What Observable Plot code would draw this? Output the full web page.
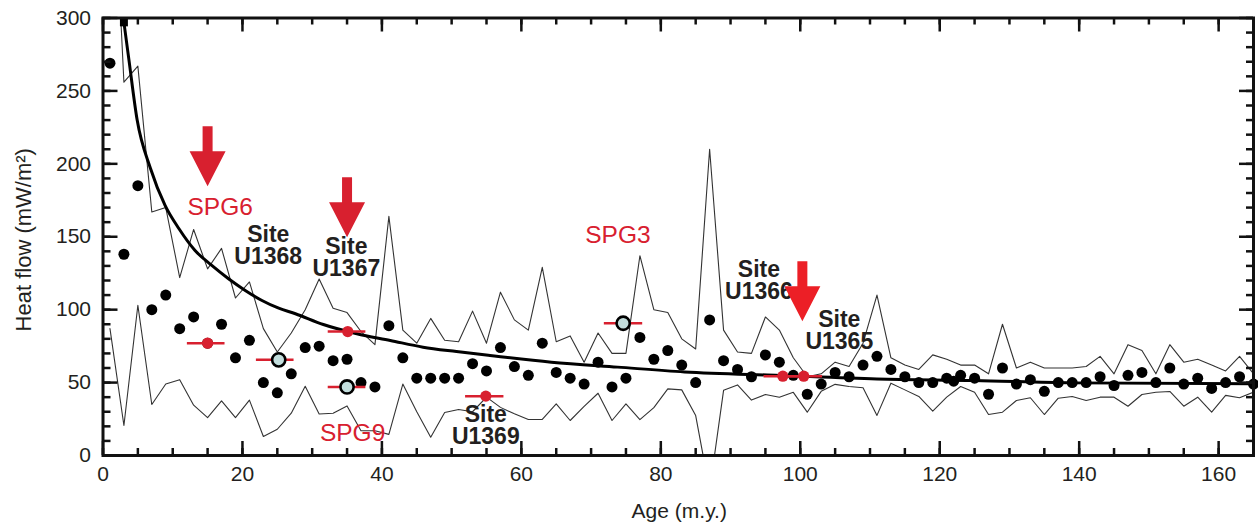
<!DOCTYPE html>
<html><head><meta charset="utf-8">
<script src="https://cdn.jsdelivr.net/npm/d3@7"></script>
<script src="https://cdn.jsdelivr.net/npm/@observablehq/plot@0.6"></script>
<style>html,body{margin:0;padding:0;background:#fff;}</style>
</head><body><div id="chart"></div>
<script>
// ---- data ----
const dotAges = [1,3,5,7,9,11,13,15,17,19,21,23,25,27,29,31,33,35,37,39,41,43,45,47,49,51,53,55,57,59,61,63,65,67,69,71,73,75,77,79,81,83,85,87,89,91,93,95,97,99,101,103,105,107,109,111,113,115,117,119,121,122,123,125,127,129,131,133,135,137,139,141,143,145,147,149,151,153,155,157,159,161,163,165];
const dotHeatFlow = [269,138,185,100,110,87,95,77,90,67,79,50,43,56,74,75,65,66,50,47,89,67,53,53,53,53,63,58,74,61,55,77,57,53,49,64,47,53,81,66,72,62,50,93,65,59,54,69,64,55,42,49,57,54,62,68,59,54,50,50,53,51,55,53,42,60,49,52,44,50,50,50,54,48,55,57,50,60,49,53,46,50,54,49];

const envAges = [1,3,5,7,9,11,13,15,17,19,21,23,25,27,29,31,33,35,37,39,41,43,45,47,49,51,53,55,57,59,61,63,65,67,69,71,73,75,77,79,81,83,85,87,89,91,93,95,97,99,101,103,105,107,109,111,113,115,117,119,121,123,125,127,129,131,133,135,137,139,141,143,145,147,149,151,153,155,157,159,161,163,165];
const envUpper = [451,256,267,167,170,122,155,128,142,108,119,87,71,84,100,121,101,98,85,76,164,86,77,94,79,78,99,77,112,93,86,129,78,82,64,84,70,70,137,100,98,80,73,210,86,71,70,95,86,67,54,56,64,61,77,110,67,62,59,69,66,62,62,56,90,60,64,60,60,60,61,68,56,76,72,56,76,64,66,62,58,68,56];
const envLower = [87,20.6,103,35,49,52,34.5,26,37.5,26,38,13,18,29,47.5,28.5,29,34,17,17,14.5,49,30,12.5,29.5,31.5,30,40,33,28.6,24.7,24.7,35.4,24,33.7,42.7,24,35.4,24.6,32.8,45.7,45,27.4,-24,44.7,48.4,38,41.8,40,43.3,29.7,44,48.8,47.3,46.5,27.5,49.6,45,40.5,30.4,40,47.3,43.4,28.1,29.7,37.7,39.6,28.1,39.3,40.5,37.7,40,40,33.8,41.8,43.4,43.9,33.8,40,29.7,41.2,39.6,43.4];

const curveAges = [3,3.7,4.9,6.8,8.9,10.9,13.2,15.6,18,20.4,22.8,25.2,27.6,31.6,36.4,41.2,45.9,50.7,55.5,64.3,73.8,83.4,97,111,125,139,165];
const curveHeatFlow = [297,272,230,197,171.5,155.5,140.6,130.3,121.2,113.2,106.3,101,97.2,89.8,83.5,78.9,74.3,71.3,68.6,64,60.6,57.3,54.9,52.5,51.4,49.8,49.2];

const siteNames = ["SPG6","U1368","U1367","SPG9","U1369","SPG3","U1366","U1365"];
const siteAges = [15,25.2,35.1,35,54.9,74.6,97.5,100.5];
const siteHeatFlow = [77,65.6,85,47,40.7,90.7,54.4,54.4];
const siteAgeMin = [12.1,22,32.3,32.3,52,71.9,94.8,97.8];
const siteAgeMax = [17.5,27.4,37.7,37.7,57.5,77.4,100.2,103.2];
const siteKind = ["red","blue","red","blue","red","blue","red","red"];

const labelTexts = ["SPG6","Site\nU1368","Site\nU1367","SPG9","Site\nU1369","SPG3","Site\nU1366","Site\nU1365"];
const labelAges = [16.8,23.7,34.9,35.8,54.9,73.85,94.07,105.6];
const labelHeatFlow = [170,143.6,135.7,15.1,20.4,151.4,119.5,85.4];
const labelKind = ["spg","site","site","spg","site","spg","site","site"];

const arrowAges = [15,35,100.3];
const arrowTipHeatFlow = [184.7,149.7,92.1];

const xTicksMajor = [0,20,40,60,80,100,120,140,160];
const yTicksMajor = [0,50,100,150,200,250,300];
const xTicksMinor = d3.range(0,166,5);
const yTicksMinor = d3.range(0,301,10);
const X_MIN = 0, X_MAX = 165, Y_MIN = 0, Y_MAX = 300;

// ---- tables ----
const dots = dotAges.map((a,i)=>({age:a, q:dotHeatFlow[i]}));
const env = envAges.map((a,i)=>({age:a, upper:envUpper[i], lower:envLower[i]}));
const curve = curveAges.map((a,i)=>({age:a, q:curveHeatFlow[i]}));
const sites = siteNames.map((n,i)=>({name:n, age:siteAges[i], q:siteHeatFlow[i], lo:siteAgeMin[i], hi:siteAgeMax[i], kind:siteKind[i]}));
const labels = labelTexts.map((t,i)=>({text:t, age:labelAges[i], q:labelHeatFlow[i], kind:labelKind[i]}));
const arrows = arrowAges.map((a,i)=>({age:a, q:arrowTipHeatFlow[i], idx:i}));

const RED = "#d8202f";
const RED2 = "#ec1f26";
const BLUE = "#c3dedd";
const INK = "#231f20";

const arrowSymbol = {draw(ctx){ctx.moveTo(0,0);ctx.lineTo(-18,-35);ctx.lineTo(-5,-35);ctx.lineTo(-5,-60);ctx.lineTo(5,-60);ctx.lineTo(5,-35);ctx.lineTo(18,-35);ctx.closePath();}};

const W = 1258, H = 527, ML = 102.5, MR = 5, MT = 17.5, MB = 72;
const FW = W - ML - MR, FH = H - MT - MB;
// pixel lengths expressed in data units (for tick lengths / label offsets)
const px2x = (X_MAX - X_MIN) / FW, px2y = (Y_MAX - Y_MIN) / FH;
const tk = {stroke:"#111", strokeWidth:2.5};

const chart = Plot.plot({
  width: W, height: H,
  marginLeft: ML, marginRight: MR, marginTop: MT, marginBottom: MB,
  x: {domain: [X_MIN, X_MAX], axis: null},
  y: {domain: [Y_MIN, Y_MAX], axis: null},
  style: {fontFamily: "'Liberation Sans', Arial, Helvetica, sans-serif", background: "#fff", color: INK},
  marks: [
    Plot.line(env, {x:"age", y:"upper", stroke:"#333", strokeWidth:1.1, clip:true}),
    Plot.line(env, {x:"age", y:"lower", stroke:"#333", strokeWidth:1.1, clip:true}),
    Plot.line(curve, {x:"age", y:"q", stroke:"#000", strokeWidth:3, curve:"monotone-x"}),
    Plot.dot(curve.slice(0,1), {x:"age", y:"q", symbol:"square", r:4.5, fill:"#000"}),
    Plot.dot(dots, {x:"age", y:"q", r:5.5, fill:"#000"}),
    Plot.ruleY(sites, {y:"q", x1:"lo", x2:"hi", stroke:RED, strokeWidth:2.5}),
    Plot.dot(sites.filter(d=>d.kind==="red"), {x:"age", y:"q", r:5.6, fill:RED}),
    Plot.dot(sites.filter(d=>d.kind==="blue"), {x:"age", y:"q", r:6.6, fill:BLUE, stroke:"#000", strokeWidth:2.6}),
    Plot.text(labels.filter(d=>d.kind==="site"), {x:"age", y:"q", text:"text", fill:INK, fontSize:23, fontWeight:"bold", lineHeight:0.96, textAnchor:"middle", lineAnchor:"middle"}),
    Plot.text(labels.filter(d=>d.kind==="spg"), {x:"age", y:"q", text:"text", fill:RED, fontSize:24.5, textAnchor:"middle", lineAnchor:"middle"}),
    Plot.dot(arrows.filter(d=>d.idx<2), {x:"age", y:"q", symbol:arrowSymbol, r:1, fill:RED}),
    Plot.dot(arrows.filter(d=>d.idx===2), {x:"age", y:"q", symbol:arrowSymbol, r:1, fill:RED2}),
    // inward ticks on all four sides
    Plot.ruleX(xTicksMinor, {x:d=>d, y1:()=>Y_MIN, y2:()=>Y_MIN + 7*px2y, ...tk}),
    Plot.ruleX(xTicksMajor, {x:d=>d, y1:()=>Y_MIN, y2:()=>Y_MIN + 14*px2y, ...tk}),
    Plot.ruleX(xTicksMinor, {x:d=>d, y1:()=>Y_MAX, y2:()=>Y_MAX - 7*px2y, ...tk}),
    Plot.ruleX(xTicksMajor, {x:d=>d, y1:()=>Y_MAX, y2:()=>Y_MAX - 14*px2y, ...tk}),
    Plot.ruleY(yTicksMinor, {y:d=>d, x1:()=>X_MIN, x2:()=>X_MIN + 8*px2x, ...tk}),
    Plot.ruleY(yTicksMajor, {y:d=>d, x1:()=>X_MIN, x2:()=>X_MIN + 15*px2x, ...tk}),
    Plot.ruleY(yTicksMinor, {y:d=>d, x1:()=>X_MAX, x2:()=>X_MAX - 7*px2x, ...tk}),
    Plot.ruleY(yTicksMajor, {y:d=>d, x1:()=>X_MAX, x2:()=>X_MAX - 14*px2x, ...tk}),
    // tick labels
    Plot.text(xTicksMajor, {x:d=>d, y:()=>Y_MIN, dy:19, text:d=>String(d), fontSize:21, lineAnchor:"middle", textAnchor:"middle", fill:INK}),
    Plot.text(yTicksMajor, {y:d=>d, x:()=>X_MIN, dx:-12, text:d=>String(d), fontSize:21, lineAnchor:"middle", textAnchor:"end", fill:INK}),
    Plot.frame({stroke:"#111", strokeWidth:3}),
    Plot.text(["Age (m.y.)"], {frameAnchor:"bottom", dy:55.5, dx:1, fontSize:21, lineAnchor:"middle", textAnchor:"middle", fill:INK}),
    Plot.text(["Heat flow (mW/m²)"], {frameAnchor:"left", dx:-79, dy:3, rotate:-90, fontSize:22, lineAnchor:"middle", textAnchor:"middle", fill:INK})
  ]
});
document.getElementById("chart").appendChild(chart);
</script>
</body></html>
